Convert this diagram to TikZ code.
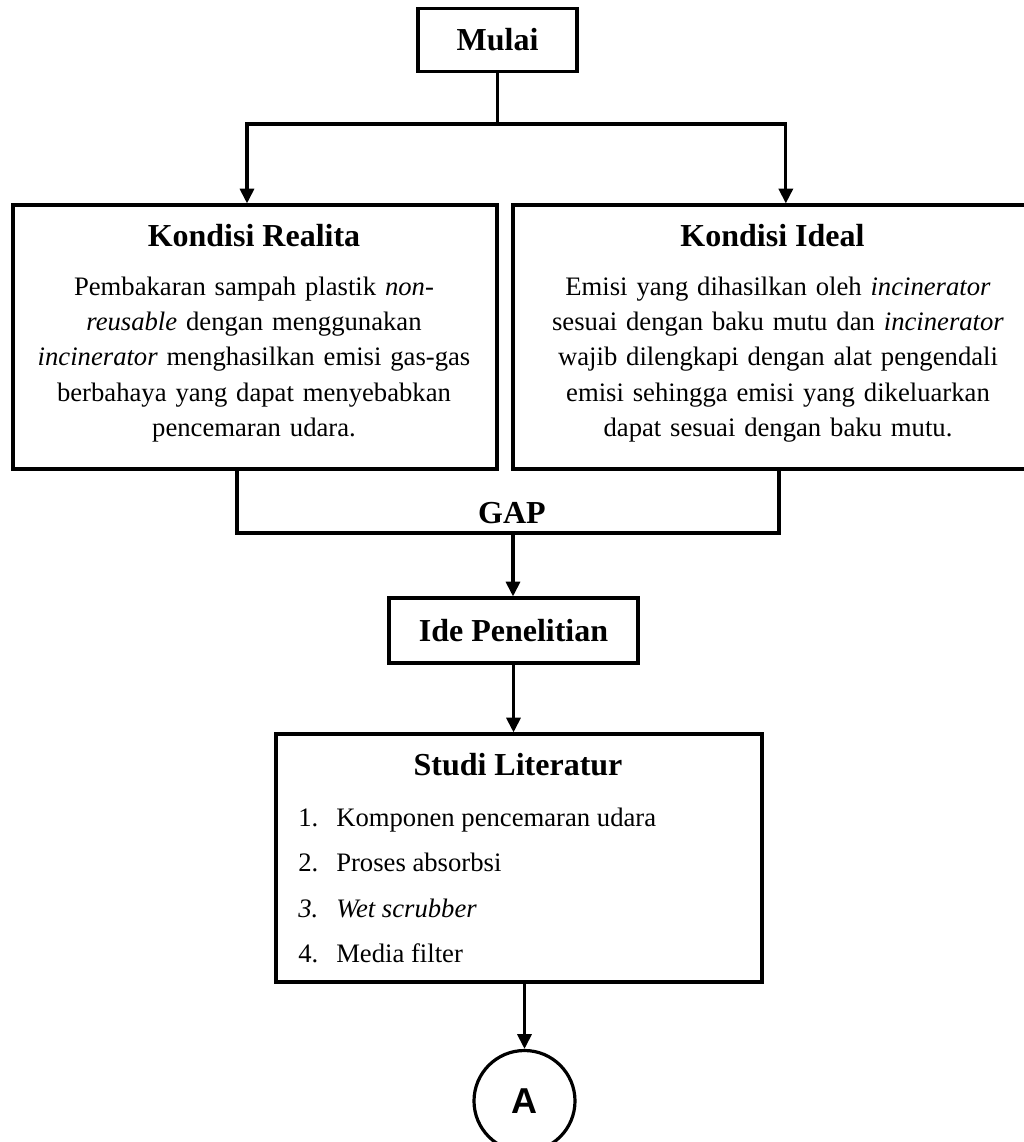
\documentclass[tikz,border=0pt]{standalone}
\usepackage{fontspec}
\setmainfont{Liberation Serif}
\newfontfamily\arialfont{Liberation Sans}
\usetikzlibrary{arrows.meta, calc, positioning}
\tikzset{
    flowBox/.style={rectangle, draw, line width=2.4pt, inner sep=0pt},
    flowTitle/.style={font=\fontsize{24}{28}\selectfont\bfseries, inner sep=0pt},
    flowBody/.style={font=\fontsize{20}{26.6}\selectfont, inner sep=0pt, align=center, text width=345pt},
    flowItem/.style={font=\fontsize{20}{26.6}\selectfont, inner sep=0pt, anchor=base west},
    flowLine/.style={line width=2.4pt},
    flowArrow/.style={-{Triangle[length=11pt, width=10.5pt]}, line width=2.4pt},
    offPage/.style={circle, draw, line width=2.4pt, minimum size=75.75pt, inner sep=0pt, font=\arialfont\fontsize{27}{30}\selectfont\bfseries},
}
\newcommand{\litItem}[4]{
    \node[flowItem] (#1n) at (298, #2) {#3};
    \node[flowItem] (#1) at (336, #2) {#4};
}

\begin{document}
\begin{tikzpicture}[x=0.75pt, y=-0.75pt]
    \useasboundingbox (0,0) rectangle (1024,1142);

    \node[flowBox, flowTitle, minimum width=119.25pt, minimum height=47.25pt] (mulai) at (497.5, 40) {Mulai};

    % kondisi realita / ideal
    \node[flowBox, minimum width=363pt, minimum height=198pt] (realita) at (255, 337) {};
    \node[flowTitle, anchor=base] (realitaT) at (254, 246) {Kondisi Realita};
    \node[flowBody, anchor=base] (realitaB) at (254, 295) {Pembakaran sampah plastik \emph{non-}\\
        \emph{reusable} dengan menggunakan\\
        \emph{incinerator} menghasilkan emisi gas-gas\\
        berbahaya yang dapat menyebabkan\\
        pencemaran udara.};

    \node[flowBox, minimum width=389.25pt, minimum height=198pt] (ideal) at (772.5, 337) {};
    \node[flowTitle, anchor=base] (idealT) at (772.5, 246) {Kondisi Ideal};
    \node[flowBody, anchor=base] (idealB) at (778, 295) {Emisi yang dihasilkan oleh \emph{incinerator}\\
        sesuai dengan baku mutu dan \emph{incinerator}\\
        wajib dilengkapi dengan alat pengendali\\
        emisi sehingga emisi yang dikeluarkan\\
        dapat sesuai dengan baku mutu.};

    \node[flowTitle, anchor=base] (gap) at (512, 523) {GAP};

    \node[flowBox, flowTitle, minimum width=186.75pt, minimum height=48.75pt] (ide) at (513.5, 630.5) {Ide Penelitian};

    % studi literatur
    \node[flowBox, minimum width=364.5pt, minimum height=186pt] (studi) at (519, 858) {};
    \node[flowTitle, anchor=base] (studiT) at (518, 775) {Studi Literatur};
    \litItem{item1}{826}{1.}{Komponen pencemaran udara}
    \litItem{item2}{871.5}{2.}{Proses absorbsi}
    \litItem{item3}{917}{\textit{3.}}{\textit{Wet scrubber}}
    \litItem{item4}{962}{4.}{Media filter}

    \node[offPage] (circA) at (524.5, 1101) {A};

    % connectors
    \coordinate (split) at (497.5, 124);
    \draw[flowLine] (mulai) -- (split);
    \draw[flowArrow] (split) -| ([xshift=-6pt]realita.north);
    \draw[flowArrow] (split) -| ([xshift=10pt]ideal.north);

    \coordinate (gapjoin) at (513, 533);
    \draw[flowLine] ([xshift=-13.5pt]realita.south) |- (gapjoin) -| ([xshift=4.9pt]ideal.south);
    \draw[flowArrow] (gapjoin) -- (gapjoin |- ide.north);
    \draw[flowArrow] (ide.south) -- (ide.south |- studi.north);
    \draw[flowArrow] (circA.north |- studi.south) -- (circA);

\end{tikzpicture}
\end{document}
